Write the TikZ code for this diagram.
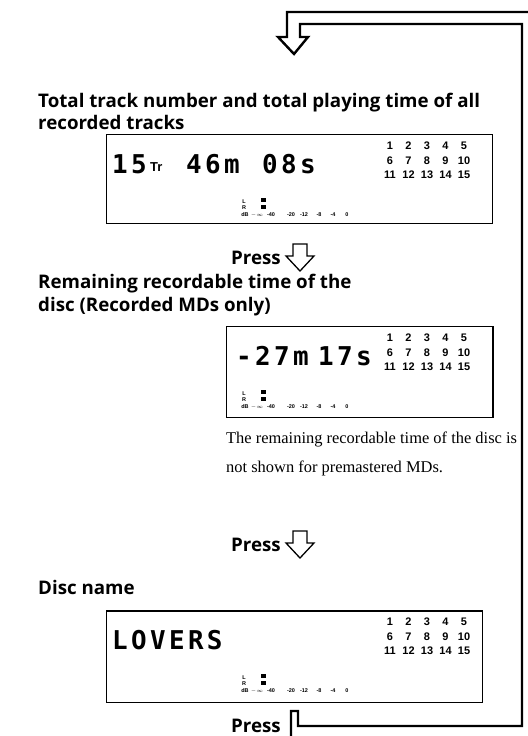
\documentclass[tikz,border=0pt]{standalone}
\usepackage{fontspec}
\newfontfamily\headfont{Open Sans}
\newfontfamily\lcdfont[LetterSpace=13]{DejaVu Sans Mono}
\newfontfamily\gridfont{Liberation Sans}
\newfontfamily\bodyfont{Liberation Serif}
\tikzset{
  lcdbox/.style={draw, line width=1.5},
  headtxt/.style={font=\headfont\bfseries\fontsize{18.8}{22}\selectfont, anchor=base west, inner sep=0},
  presstxt/.style={font=\headfont\bfseries\fontsize{18.8}{22}\selectfont, anchor=base east, inner sep=0},
  bodytxt/.style={font=\bodyfont\fontsize{16.5}{20}\selectfont, anchor=base west, inner sep=0},
  lcdtxt/.style={font=\lcdfont\bfseries\fontsize{26}{28}\selectfont, anchor=base west, inner sep=0},
  trtxt/.style={font=\gridfont\bfseries\fontsize{13}{14}\selectfont, anchor=base west, inner sep=0},
  gridnum/.style={font=\gridfont\bfseries\fontsize{11}{12}\selectfont, inner sep=0},
  dbtxt/.style={font=\gridfont\bfseries\fontsize{5.5}{6}\selectfont, inner sep=0, anchor=base},
  loopline/.style={line width=2.4, line join=miter},
  pressarrow/.pic={\draw[line width=1.3, line join=miter] (-7,0) -- (-7,12) -- (-14,12) -- (0,27) -- (14,12) -- (7,12) -- (7,0) -- cycle;}
}
% #1 prefix, #2 top y of box
\newcommand\mdpanel[2]{%
  \foreach \n in {1,...,15} {
    \pgfmathsetmacro\cx{390 + 18.5*mod(\n-1,5)}
    \pgfmathsetmacro\cy{#2 + 12 + 14.5*floor((\n-1)/5)}
    \node[gridnum] (#1g\n) at (\cx,\cy) {\n};
  }
  \node[dbtxt] (#1L) at (244,#2+69) {L};
  \node[dbtxt] (#1R) at (244,#2+75) {R};
  \fill (261,#2+64) rectangle (266,#2+68);
  \fill (261,#2+70.5) rectangle (266,#2+74.5);
  \foreach \x/\t [count=\k] in {245/dB,257/{$-\infty$},271/-40,291/-20,304/-12,319/-8,333/-4,347/0} {
    \node[dbtxt] (#1db\k) at (\x,#2+82) {\t};
  }
}
\begin{document}
\begin{tikzpicture}[x=1bp,y=-1bp]
\useasboundingbox (0,0) rectangle (528,736);

% loop arrow
\coordinate (loopstart) at (291,736);
\coordinate (loopend) at (528,12);
\draw[loopline] (loopstart) -- (291,711) -- (298,711) -- (298,726) -- (522,726) -- (522,24)
  -- (300,24) -- (300,37) -- (308,37) -- (294,54) -- (278,37) -- (287,37) -- (287,12) -- (loopend);

% section 1
\node[headtxt] (h1a) at (38,107) {Total track number and total playing time of all};
\node[headtxt] (h1b) at (38,129) {recorded tracks};
\node[lcdbox, minimum width=387, minimum height=89, anchor=north west, inner sep=0] (box1) at (106,134) {};
\node[lcdtxt] (t15) at (112,173) {15};
\node[trtxt] (tTr) at (150,171) {Tr};
\node[lcdtxt] (t46) at (186,173) {46m};
\node[lcdtxt] (t08) at (262,173) {08s};
\mdpanel{a}{134}

\node[presstxt] (press1) at (281,264) {Press};
\pic at (300,244) {pressarrow};

% section 2
\node[headtxt] (h2a) at (38,288) {Remaining recordable time of the};
\node[headtxt] (h2b) at (38,311) {disc (Recorded MDs only)};
\node[lcdbox, minimum width=267, minimum height=91, anchor=north west, inner sep=0] (box2) at (226,326) {};
\node[lcdtxt] (t27) at (236,365) {-27m};
\node[lcdtxt] (t17) at (318,365) {17s};
\mdpanel{b}{326}
\node[bodytxt] (body1) at (226,443) {The remaining recordable time of the disc is};
\node[bodytxt] (body2) at (226,472) {not shown for premastered MDs.};

\node[presstxt] (press2) at (281,551) {Press};
\pic at (300,531) {pressarrow};

% section 3
\node[headtxt] (h3) at (38,594) {Disc name};
\node[lcdbox, minimum width=377, minimum height=92, anchor=north west, inner sep=0] (box3) at (106,610) {};
\node[lcdtxt] (tlov) at (112,649) {LOVERS};
\mdpanel{c}{610}

\node[presstxt] (press3) at (281,732) {Press};
\end{tikzpicture}
\end{document}
